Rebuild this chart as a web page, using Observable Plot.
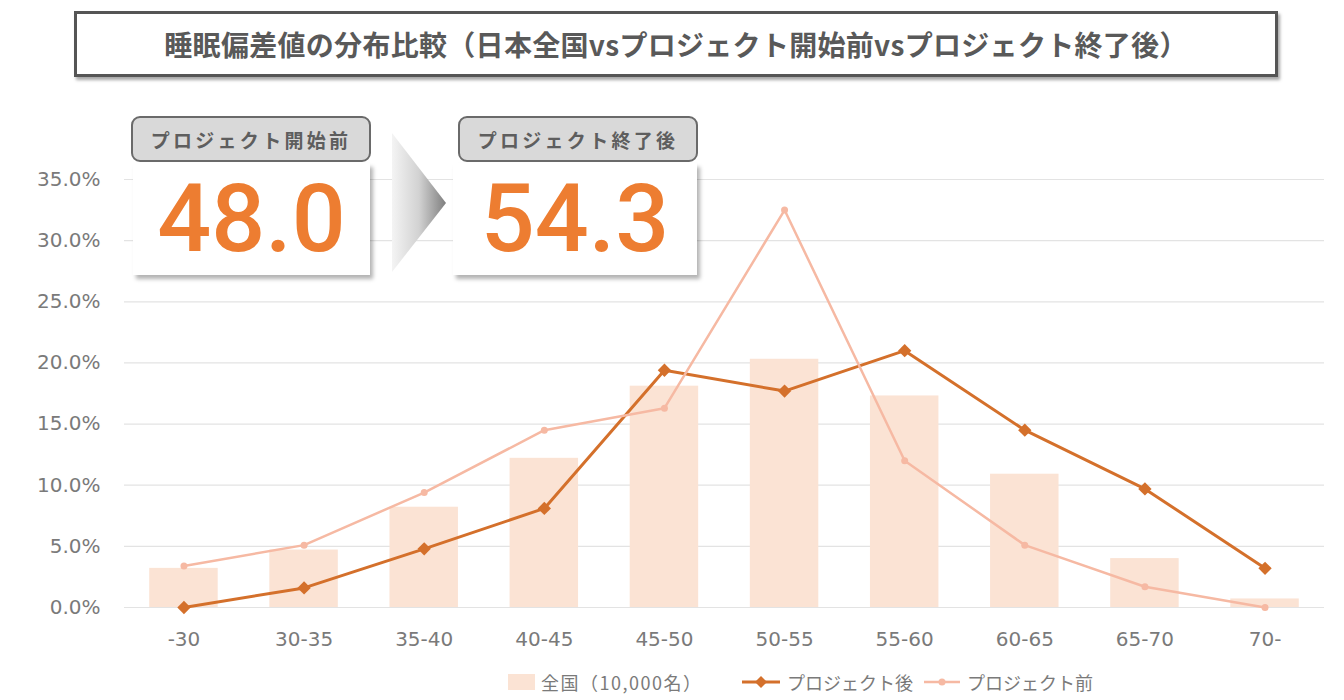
<!DOCTYPE html>
<html>
<head>
<meta charset="utf-8">
<script src="https://cdn.jsdelivr.net/npm/d3@7"></script>
<script src="https://cdn.jsdelivr.net/npm/@observablehq/plot@0.6"></script>
<style>
  html, body { margin: 0; padding: 0; background: #fff; }
  #wrap { position: relative; width: 1344px; height: 700px; overflow: hidden; font-family: "Noto Sans CJK JP", sans-serif; }
  #chart { position: absolute; left: 0; top: 0; }
  .titlebox { position: absolute; left: 74px; top: 11px; width: 1198px; height: 60px; border: 3px solid #555; box-shadow: 2px 3px 3px rgba(0,0,0,0.35); background: #fff;
    display: flex; align-items: center; justify-content: center; font-size: 28px; font-weight: 700; color: #595959; letter-spacing: 0.3px; }
  .lab { position: absolute; height: 46px; border: 2px solid #6a6a6a; border-radius: 9px; background: #d9d9d9; box-sizing: border-box;
    display: flex; align-items: center; justify-content: center; font-size: 19px; font-weight: 700; color: #5e5e5e; letter-spacing: 3.3px; z-index: 2; }
  .val { position: absolute; height: 112px; background: #fff; box-shadow: 3px 4px 4px rgba(0,0,0,0.3); z-index: 1;
    font-family: Roboto, sans-serif; font-weight: 500; font-size: 95px; color: #ed7d31; text-align: center; line-height: 112px; }
  .legend { position: absolute; top: 668px; left: 0; width: 1344px; height: 28px; font-size: 18px; color: #7a7a7a; font-family: "Noto Sans CJK JP", "Noto Sans", sans-serif; }
  .li { position: absolute; top: 0; display: flex; align-items: center; height: 28px; }
</style>
</head>
<body>
<div id="wrap">
  <div id="chart"></div>
  <div class="titlebox" id="title"></div>
  <div class="lab" style="left:131px; top:116px; width:240px;" id="labBefore"></div>
  <div class="val" style="left:133px; top:163px; width:237px;" id="valBefore"></div>
  <svg style="position:absolute; left:390px; top:132px; z-index:1" width="60" height="142">
    <defs>
      <linearGradient id="g" x1="0" x2="1" y1="0" y2="0">
        <stop offset="0" stop-color="#f4f4f4"/>
        <stop offset="0.5" stop-color="#d2d2d2"/>
        <stop offset="1" stop-color="#7e7e7e"/>
      </linearGradient>
    </defs>
    <polygon points="2,1 56,71 2,140" fill="url(#g)"/>
  </svg>
  <div class="lab" style="left:458px; top:116px; width:240px;" id="labAfter"></div>
  <div class="val" style="left:453px; top:163px; width:244px;" id="valAfter"></div>
  <div class="legend" id="legend"></div>
</div>
<script>
const title = "睡眠偏差値の分布比較（日本全国vsプロジェクト開始前vsプロジェクト終了後）";
const categories = ["-30", "30-35", "35-40", "40-45", "45-50", "50-55", "55-60", "60-65", "65-70", "70-"];
const national = [0.032, 0.047, 0.082, 0.122, 0.181, 0.203, 0.173, 0.109, 0.040, 0.007];
const after = [0.000, 0.016, 0.048, 0.081, 0.194, 0.177, 0.210, 0.145, 0.097, 0.032];
const before = [0.034, 0.051, 0.094, 0.145, 0.163, 0.325, 0.120, 0.051, 0.017, 0.000];
const yTicks = [0, 0.05, 0.10, 0.15, 0.20, 0.25, 0.30, 0.35];
const seriesNames = ["全国（10,000名）", "プロジェクト後", "プロジェクト前"];
const cardLabels = ["プロジェクト開始前", "プロジェクト終了後"];
const cardValues = ["48.0", "54.3"];

const colBar = "#fbe3d4";
const colAfter = "#d4702b";
const colBefore = "#f6b9a3";

document.getElementById("title").textContent = title;
document.getElementById("labBefore").textContent = cardLabels[0];
document.getElementById("labAfter").textContent = cardLabels[1];
document.getElementById("valBefore").textContent = cardValues[0];
document.getElementById("valAfter").textContent = cardValues[1];

const rows = categories.map((c, i) => ({cat: c, national: national[i], after: after[i], before: before[i]}));

const chart = Plot.plot({
  width: 1344,
  height: 665,
  marginLeft: 124,
  marginRight: 20,
  marginTop: 179,
  marginBottom: 58,
  style: {fontFamily: "DejaVu Sans, sans-serif", fontSize: "20px", color: "#7a7a7a", background: "transparent"},
  x: {domain: categories, paddingInner: 0.43, paddingOuter: 0.21, round: false, label: null, tickSize: 0, tickPadding: 24},
  y: {domain: [0, 0.35], ticks: yTicks, tickFormat: d3.format(".1%"), label: null, tickSize: 0, tickPadding: 24},
  marks: [
    Plot.gridY(yTicks, {stroke: "#e3e3e3", strokeOpacity: 1, strokeWidth: 1.2}),
    Plot.barY(rows, {x: "cat", y: "national", fill: colBar}),
    Plot.line(rows, {x: "cat", y: "after", stroke: colAfter, strokeWidth: 3}),
    Plot.dot(rows, {x: "cat", y: "after", symbol: "diamond2", r: 6, fill: colAfter}),
    Plot.line(rows, {x: "cat", y: "before", stroke: colBefore, strokeWidth: 2.5}),
    Plot.dot(rows, {x: "cat", y: "before", r: 3.5, fill: colBefore})
  ]
});
document.getElementById("chart").appendChild(chart);

const leg = document.getElementById("legend");
const items = [
  {left: 508, spacing: 1.5, sw: `<svg width="28" height="18"><rect x="0" y="1" width="27" height="16" fill="${colBar}"/></svg>`},
  {left: 742, spacing: 0, sw: `<svg width="40" height="18"><line x1="0" x2="38" y1="9" y2="9" stroke="${colAfter}" stroke-width="3"/><path d="M19,3 L25,9 L19,15 L13,9 Z" fill="${colAfter}"/></svg>`},
  {left: 924, spacing: 0, sw: `<svg width="38" height="18"><line x1="0" x2="36" y1="9" y2="9" stroke="${colBefore}" stroke-width="2.5"/><circle cx="18" cy="9" r="3.5" fill="${colBefore}"/></svg>`}
];
items.forEach((it, i) => {
  const d = document.createElement("div");
  d.className = "li";
  d.style.left = it.left + "px";
  d.innerHTML = it.sw + `<span style="margin-left:5px; letter-spacing:${it.spacing}px">${seriesNames[i]}</span>`;
  leg.appendChild(d);
});
</script>
</body>
</html>
